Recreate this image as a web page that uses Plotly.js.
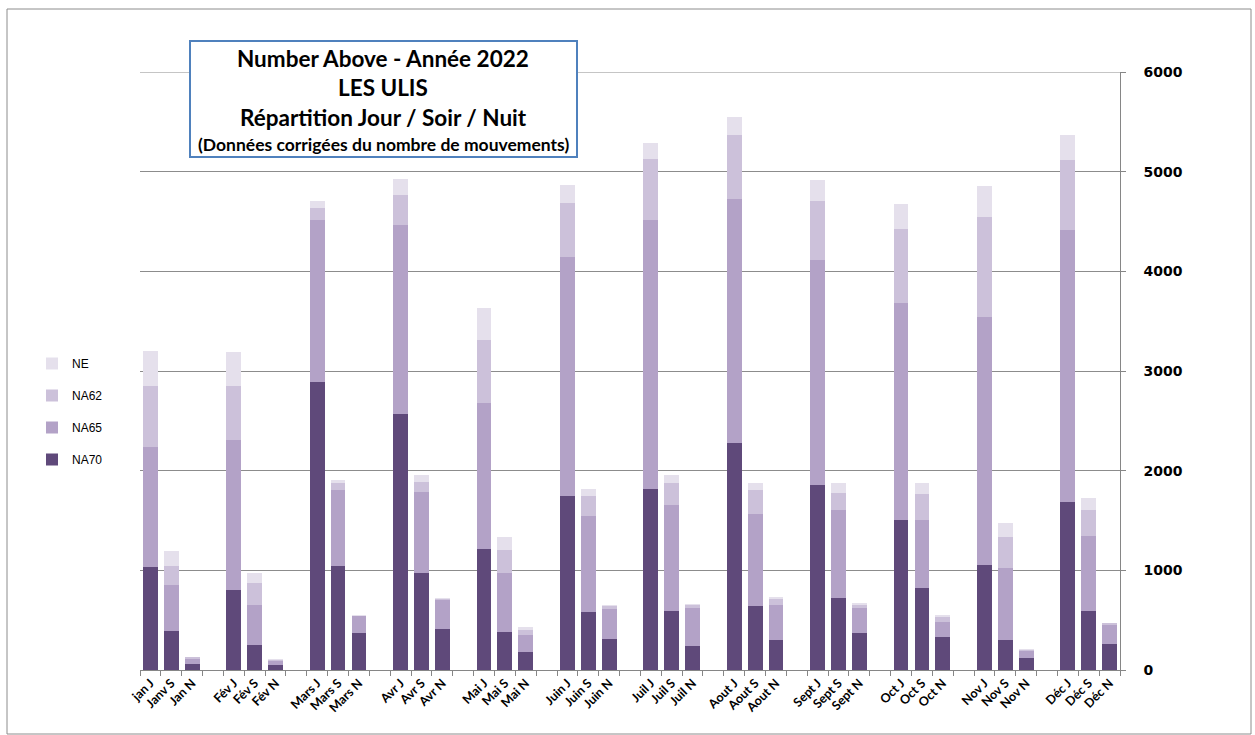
<!DOCTYPE html>
<html>
<head>
<meta charset="utf-8">
<script src="https://cdn.plot.ly/plotly-3.0.1.min.js"></script>
<style>
html,body{margin:0;padding:0;background:#fff;}
#chart{width:1255px;height:735px;}
</style>
</head>
<body>
<div id="chart"></div>
<script>
// Categories (blank strings are the gaps between months)
const categories = [
  "jan J","Janv S","Jan N"," ",
  "Fév J","Fév S","Fév N","  ",
  "Mars J","Mars S","Mars N","   ",
  "Avr J","Avr S","Avr N","    ",
  "Mai J","Mai S","Mai N","     ",
  "Juin J","Juin S","Juin N","      ",
  "Juil J","Juil S","Juil N","       ",
  "Aout J","Aout S","Aout N","        ",
  "Sept J","Sept S","Sept N","         ",
  "Oct J","Oct S","Oct N","          ",
  "Nov J","Nov S","Nov N","           ",
  "Déc J","Déc S","Déc N"
];

// Stacked segment heights (null = gap category)
const NA70 = [1037,388,65,null, 800,254,53,null, 2887,1040,368,null, 2572,973,415,null,
  1210,386,182,null, 1744,583,315,null, 1814,597,241,null, 2275,642,297,null,
  1859,727,367,null, 1503,820,330,null, 1054,297,122,null, 1681,590,256];
const NA65 = [1204,468,50,null, 1511,401,37,null, 1628,766,174,null, 1890,816,291,null,
  1473,590,174,null, 2401,964,293,null, 2702,1054,382,null, 2452,928,360,null,
  2252,876,260,null, 2182,686,156,null, 2486,723,64,null, 2731,753,197];
const NA62 = [609,191,13,null, 539,218,10,null, 124,73,3,null, 301,97,10,null,
  631,230,48,null, 538,197,38,null, 616,223,26,null, 638,237,59,null,
  598,174,30,null, 738,264,48,null, 1009,316,14,null, 701,267,15];
const NE = [348,150,7,null, 340,100,7,null, 67,31,3,null, 164,70,4,null,
  315,126,26,null, 182,70,11,null, 159,85,11,null, 179,74,13,null,
  208,97,15,null, 252,111,19,null, 312,141,12,null, 252,119,7];

const yTicks = [0,1000,2000,3000,4000,5000,6000];

const seriesNames = ["NA70","NA65","NA62","NE"];
const seriesData = [NA70, NA65, NA62, NE];
const seriesColors = ["#5f497a","#b3a2c7","#ccc1da","#e5e0ec"];
const legendRanks = [4,3,2,1];

const traces = seriesNames.map((name, i) => ({
  type: "bar",
  name: name,
  x: categories,
  y: seriesData[i],
  legendgroup: name,
  legendrank: legendRanks[i],
  marker: {color: seriesColors[i], line: {width: 0}},
  hoverinfo: "x+y+name"
}));

// Layout helpers: plot area is 140..1120 x 72..670 in pixels
const L = 140, R = 1120, T = 72, B = 670;
const px = v => (v - L) / (R - L);
const py = v => (B - v) / (B - T);

const titleFont = {family: "Lato, 'Open Sans', sans-serif", size: 22.5, color: "#000", weight: "bold"};
const pad = "\u00a0\u00a0\u00a0";

const layout = {
  width: 1255, height: 735,
  margin: {l: L, r: 1255 - R, t: T, b: 735 - B, pad: 0},
  paper_bgcolor: "#fff",
  plot_bgcolor: "#fff",
  barmode: "stack",
  bargap: 0.29,
  showlegend: true,
  legend: {
    x: px(32), xanchor: "left",
    y: py(349), yanchor: "top",
    traceorder: "grouped",
    tracegroupgap: 13,
    itemwidth: 30,
    font: {family: "'Liberation Sans', Arial, sans-serif", size: 12, color: "#000"},
    bgcolor: "rgba(0,0,0,0)"
  },
  xaxis: {
    type: "category",
    categoryorder: "array",
    categoryarray: categories,
    tickson: "boundaries",
    ticks: "outside",
    ticklen: 5,
    tickcolor: "#868686",
    showline: true,
    linecolor: "#868686",
    linewidth: 1,
    showgrid: false,
    tickangle: -45,
    tickfont: {family: "Lato, 'Open Sans', sans-serif", size: 12.5, color: "#000", weight: "bold"},
    range: [-0.5, categories.length - 0.5],
    fixedrange: true
  },
  yaxis: {
    side: "right",
    range: [0, 6000],
    tickmode: "array",
    tickvals: yTicks,
    ticktext: yTicks.map(v => pad + String(v)),
    ticks: "outside",
    ticklen: 5,
    tickcolor: "#868686",
    showline: true,
    linecolor: "#868686",
    linewidth: 1,
    showgrid: true,
    gridcolor: "#8c8c8c",
    gridwidth: 1,
    zeroline: false,
    tickfont: {family: "'DejaVu Sans', Verdana, sans-serif", size: 14, color: "#000", weight: "bold"},
    fixedrange: true
  },
  shapes: [
    {type: "rect", xref: "paper", yref: "paper", layer: "below",
     x0: px(7), x1: px(1251), y0: py(734), y1: py(9),
     line: {color: "#8c8c8c", width: 1}, fillcolor: "rgba(0,0,0,0)"},
    {type: "line", xref: "paper", yref: "y", layer: "below",
     x0: 0, x1: 1, y0: yTicks[yTicks.length - 1], y1: yTicks[yTicks.length - 1],
     line: {color: "#8c8c8c", width: 1}},
    {type: "rect", xref: "paper", yref: "paper", layer: "above",
     x0: px(190), x1: px(577), y0: py(157), y1: py(41),
     line: {color: "#4f81bd", width: 2}, fillcolor: "#ffffff"}
  ],
  annotations: [
    {xref: "paper", yref: "paper", x: px(383), y: py(58), xanchor: "center", yanchor: "middle",
     text: "Number Above - Année 2022", showarrow: false, font: titleFont},
    {xref: "paper", yref: "paper", x: px(383), y: py(88), xanchor: "center", yanchor: "middle",
     text: "LES ULIS", showarrow: false, font: titleFont},
    {xref: "paper", yref: "paper", x: px(383), y: py(118), xanchor: "center", yanchor: "middle",
     text: "Répartition Jour / Soir / Nuit", showarrow: false, font: titleFont},
    {xref: "paper", yref: "paper", x: px(383), y: py(144), xanchor: "center", yanchor: "middle",
     text: "(Données corrigées du nombre de mouvements)", showarrow: false,
     font: {family: "Lato, 'Open Sans', sans-serif", size: 17.5, color: "#000", weight: "bold"}}
  ]
};

Plotly.newPlot("chart", traces, layout, {displayModeBar: false, staticPlot: true});
</script>
</body>
</html>
